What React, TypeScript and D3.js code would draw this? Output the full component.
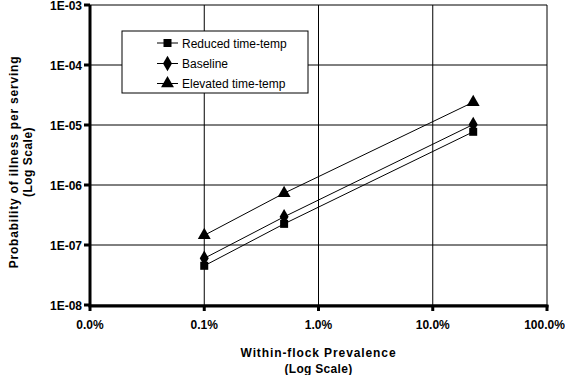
import React from "react";
import * as d3 from "d3";

const prevalence = [0.001, 0.005, 0.226];
const reduced = [4.5e-8, 2.25e-7, 7.7e-6];
const baseline = [6.0e-8, 2.95e-7, 1.02e-5];
const elevated = [1.45e-7, 7.3e-7, 2.4e-5];

const xTickValues = [1e-4, 1e-3, 1e-2, 1e-1, 1];
const xTickLabels = ["0.0%", "0.1%", "1.0%", "10.0%", "100.0%"];
const yTickValues = [1e-8, 1e-7, 1e-6, 1e-5, 1e-4, 1e-3];
const yTickLabels = ["1E-08", "1E-07", "1E-06", "1E-05", "1E-04", "1E-03"];

const seriesNames = ["Reduced time-temp", "Baseline", "Elevated time-temp"];
const seriesValues = [reduced, baseline, elevated];
const seriesSymbols = [d3.symbolSquare, d3.symbolDiamond, d3.symbolTriangle];
const symbolSizes = [64, 70, 72];

const W = 565, H = 375;
const left = 90, right = 547, top = 5, bottom = 305;
const font = "'Liberation Sans', Arial, sans-serif";

export default function App() {
  const x = d3.scaleLog().domain([1e-4, 1]).range([left, right]);
  const y = d3.scaleLog().domain([1e-8, 1e-3]).range([bottom, top]);
  const line = d3.line<[number, number]>().x(d => x(d[0])).y(d => y(d[1]));

  const legendX = 122, legendY = 31, legendW = 186, legendH = 62;
  const legendRows = [43, 63.5, 83.5];

  return (
    <svg width={W} height={H} style={{ position: "absolute", left: 0, top: 0, background: "#fff" }}>
      <rect x={0} y={0} width={W} height={H} fill="#fff" />
      {/* grid */}
      {yTickValues.map((v, i) => (
        <line key={"gy" + i} x1={left} x2={right} y1={y(v)} y2={y(v)} stroke="#000" strokeWidth={1} />
      ))}
      {xTickValues.map((v, i) => (
        <line key={"gx" + i} x1={x(v)} x2={x(v)} y1={top} y2={bottom} stroke="#000" strokeWidth={1} />
      ))}
      {/* series lines */}
      {seriesValues.map((vals, s) => (
        <path key={"l" + s} d={line(prevalence.map((p, i) => [p, vals[i]] as [number, number])) || ""}
          fill="none" stroke="#000" strokeWidth={1} />
      ))}
      {/* markers */}
      {seriesValues.map((vals, s) =>
        vals.map((v, i) => (
          <path key={"m" + s + "-" + i}
            d={d3.symbol().type(seriesSymbols[s]).size(symbolSizes[s])() || ""}
            transform={`translate(${x(prevalence[i])},${y(v)})`} fill="#000" />
        ))
      )}
      {/* axes */}
      <line x1={left} x2={left} y1={top} y2={bottom + 1.5} stroke="#000" strokeWidth={3} />
      <line x1={left - 1.5} x2={right + 1.5} y1={bottom + 1} y2={bottom + 1} stroke="#000" strokeWidth={3} />
      {yTickValues.map((v, i) => (
        <g key={"yt" + i}>
          <line x1={left - 6} x2={left} y1={y(v)} y2={y(v)} stroke="#000" strokeWidth={3} />
          <text x={82} y={y(v) + 4.5} textAnchor="end" fontFamily={font} fontWeight="bold" fontSize={12}>{yTickLabels[i]}</text>
        </g>
      ))}
      {xTickValues.map((v, i) => (
        <g key={"xt" + i}>
          <line x1={x(v)} x2={x(v)} y1={bottom} y2={bottom + 6} stroke="#000" strokeWidth={3} />
          <text x={i === xTickValues.length - 1 ? x(v) - 2.5 : x(v)} y={329} textAnchor="middle" fontFamily={font} fontWeight="bold" fontSize={12}>{xTickLabels[i]}</text>
        </g>
      ))}
      {/* axis titles */}
      <text x={(left + right) / 2} y={357} textAnchor="middle" fontFamily={font} fontWeight="bold" fontSize={12} letterSpacing={0.9}>Within-flock Prevalence</text>
      <text x={(left + right) / 2} y={373} textAnchor="middle" fontFamily={font} fontWeight="bold" fontSize={12} letterSpacing={0.3}>(Log Scale)</text>
      <g transform={`translate(18,162) rotate(-90)`}>
        <text x={0} y={0} textAnchor="middle" fontFamily={font} fontWeight="bold" fontSize={12} letterSpacing={0.8}>Probability of illness per serving</text>
        <text x={0} y={14} textAnchor="middle" fontFamily={font} fontWeight="bold" fontSize={12} letterSpacing={0.5}>(Log Scale)</text>
      </g>
      {/* legend */}
      <rect x={legendX} y={legendY} width={legendW} height={legendH} fill="#fff" stroke="#000" strokeWidth={1} />
      {seriesNames.map((n, s) => (
        <g key={"lg" + s}>
          <line x1={157} x2={178} y1={legendRows[s]} y2={legendRows[s]} stroke="#000" strokeWidth={1} />
          <path d={d3.symbol().type(seriesSymbols[s]).size(symbolSizes[s])() || ""}
            transform={`translate(167.5,${legendRows[s]})`} fill="#000" />
          <text x={182} y={legendRows[s] + 4.5} fontFamily={font} fontSize={12}>{n}</text>
        </g>
      ))}
    </svg>
  );
}
